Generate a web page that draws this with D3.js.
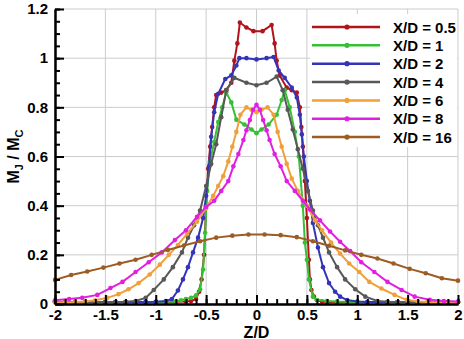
<!DOCTYPE html>
<html>
<head>
<meta charset="utf-8">
<script src="https://cdn.jsdelivr.net/npm/d3@7"></script>
<style>
    body { margin: 0; background: #fff; }
    svg { display: block; }
</style>
</head>
<body>
<div class="chart"></div>
<script>

// ===============================
// Data (Z/D, Mj/Mc) per X/D station
// ===============================

const seriesLabels = ["X/D = 0.5", "X/D = 1", "X/D = 2", "X/D = 4", "X/D = 6", "X/D = 8", "X/D = 16"];

const xTicks = [-2, -1.5, -1, -0.5, 0, 0.5, 1, 1.5, 2];
const yTicks = [0, 0.2, 0.4, 0.6, 0.8, 1, 1.2];

const xd05 = [
    [-2, 0.008], [-1.9, 0.008], [-1.8, 0.008], [-1.7, 0.008], [-1.6, 0.008], [-1.5, 0.008], [-1.4, 0.008],
    [-1.3, 0.008], [-1.2, 0.008], [-1.1, 0.008], [-1, 0.008], [-0.9, 0.008], [-0.8, 0.009], [-0.7, 0.01],
    [-0.65, 0.012], [-0.6, 0.02], [-0.57, 0.05], [-0.545, 0.1], [-0.52, 0.2], [-0.5, 0.4], [-0.48, 0.55],
    [-0.46, 0.64], [-0.44, 0.72], [-0.42, 0.8], [-0.4, 0.85], [-0.35, 0.86], [-0.3, 0.87], [-0.25, 0.9],
    [-0.22, 0.99], [-0.19, 1.06], [-0.165, 1.145], [-0.1, 1.125], [-0.03, 1.11], [0.06, 1.11], [0.15, 1.135],
    [0.18, 1.06], [0.2, 0.99], [0.23, 0.93], [0.3, 0.88], [0.35, 0.87], [0.4, 0.86], [0.43, 0.8],
    [0.445, 0.72], [0.46, 0.64], [0.48, 0.5], [0.5, 0.35], [0.52, 0.18], [0.53, 0.1], [0.545, 0.057],
    [0.57, 0.03], [0.6, 0.015], [0.65, 0.01], [0.7, 0.008], [0.8, 0.008], [0.9, 0.008], [1, 0.008],
    [1.1, 0.008], [1.2, 0.008], [1.3, 0.008], [1.4, 0.008], [1.5, 0.008], [1.6, 0.008], [1.7, 0.008],
    [1.8, 0.008], [1.9, 0.008], [2, 0.008]
];

const xd1 = [
    [-2, 0.008], [-1.9, 0.008], [-1.8, 0.008], [-1.7, 0.008], [-1.6, 0.008], [-1.5, 0.008], [-1.4, 0.008],
    [-1.3, 0.008], [-1.2, 0.008], [-1.1, 0.008], [-1, 0.008], [-0.9, 0.009], [-0.8, 0.01], [-0.75, 0.015],
    [-0.7, 0.02], [-0.65, 0.025], [-0.6, 0.035], [-0.56, 0.06], [-0.53, 0.14], [-0.51, 0.29], [-0.49, 0.46],
    [-0.46, 0.58], [-0.42, 0.66], [-0.38, 0.74], [-0.34, 0.8], [-0.3, 0.86], [-0.25, 0.82], [-0.2, 0.75],
    [-0.12, 0.73], [-0.05, 0.71], [0, 0.695], [0.05, 0.71], [0.12, 0.73], [0.2, 0.77], [0.25, 0.83],
    [0.28, 0.87], [0.33, 0.8], [0.38, 0.7], [0.42, 0.6], [0.46, 0.4], [0.48, 0.25], [0.5, 0.18],
    [0.52, 0.1], [0.56, 0.03], [0.6, 0.016], [0.7, 0.012], [0.8, 0.01], [0.9, 0.009], [1, 0.008],
    [1.1, 0.008], [1.2, 0.008], [1.3, 0.008], [1.4, 0.008], [1.5, 0.008], [1.6, 0.008], [1.7, 0.008],
    [1.8, 0.008], [1.9, 0.008], [2, 0.008]
];

const xd2 = [
    [-2, 0.008], [-1.9, 0.008], [-1.8, 0.008], [-1.7, 0.008], [-1.6, 0.008], [-1.5, 0.008], [-1.4, 0.008],
    [-1.3, 0.008], [-1.2, 0.008], [-1.1, 0.008], [-1, 0.009], [-0.9, 0.012], [-0.84, 0.02], [-0.78, 0.055],
    [-0.73, 0.1], [-0.68, 0.15], [-0.63, 0.21], [-0.58, 0.27], [-0.53, 0.35], [-0.5, 0.44], [-0.47, 0.56],
    [-0.45, 0.68], [-0.42, 0.78], [-0.38, 0.855], [-0.31, 0.915], [-0.25, 0.93], [-0.2, 0.97], [-0.17, 1.0],
    [-0.1, 1.0], [0, 0.995], [0.1, 1.0], [0.17, 1.005], [0.22, 0.95], [0.28, 0.92], [0.35, 0.88],
    [0.4, 0.84], [0.43, 0.77], [0.45, 0.69], [0.47, 0.6], [0.5, 0.5], [0.53, 0.42], [0.56, 0.33],
    [0.61, 0.23], [0.66, 0.15], [0.72, 0.085], [0.78, 0.05], [0.83, 0.03], [0.9, 0.016], [1, 0.01],
    [1.1, 0.008], [1.2, 0.008], [1.3, 0.008], [1.4, 0.008], [1.5, 0.008], [1.6, 0.008], [1.7, 0.008],
    [1.8, 0.008], [1.9, 0.008], [2, 0.008]
];

const xd4 = [
    [-2, 0.008], [-1.9, 0.008], [-1.8, 0.008], [-1.7, 0.008], [-1.6, 0.008], [-1.5, 0.008], [-1.4, 0.008],
    [-1.3, 0.009], [-1.2, 0.012], [-1.1, 0.025], [-1.02, 0.057], [-0.92, 0.1], [-0.83, 0.15], [-0.74, 0.21],
    [-0.68, 0.27], [-0.62, 0.32], [-0.56, 0.38], [-0.5, 0.48], [-0.45, 0.57], [-0.4, 0.65], [-0.35, 0.76],
    [-0.3, 0.87], [-0.22, 0.92], [-0.1, 0.9], [0, 0.89], [0.1, 0.9], [0.2, 0.925], [0.26, 0.87],
    [0.31, 0.79], [0.36, 0.71], [0.41, 0.63], [0.46, 0.55], [0.51, 0.46], [0.56, 0.38], [0.61, 0.32],
    [0.66, 0.27], [0.72, 0.21], [0.8, 0.15], [0.88, 0.1], [0.98, 0.06], [1.08, 0.03], [1.2, 0.012],
    [1.3, 0.009], [1.4, 0.008], [1.5, 0.008], [1.6, 0.008], [1.7, 0.008], [1.8, 0.008], [1.9, 0.008],
    [2, 0.008]
];

const xd6 = [
    [-2, 0.006], [-1.9, 0.007], [-1.8, 0.008], [-1.7, 0.01], [-1.6, 0.015], [-1.48, 0.025], [-1.37, 0.04],
    [-1.27, 0.06], [-1.17, 0.085], [-1.06, 0.12], [-0.96, 0.16], [-0.87, 0.2], [-0.78, 0.24], [-0.69, 0.285],
    [-0.59, 0.335], [-0.5, 0.39], [-0.43, 0.44], [-0.38, 0.48], [-0.33, 0.52], [-0.28, 0.58], [-0.24, 0.64],
    [-0.2, 0.7], [-0.16, 0.77], [-0.1, 0.8], [-0.05, 0.79], [0, 0.78], [0.05, 0.79], [0.11, 0.8],
    [0.17, 0.77], [0.21, 0.7], [0.25, 0.64], [0.3, 0.57], [0.35, 0.51], [0.41, 0.46], [0.5, 0.4],
    [0.58, 0.34], [0.65, 0.3], [0.74, 0.25], [0.83, 0.205], [0.92, 0.165], [1.02, 0.13], [1.12, 0.09],
    [1.24, 0.063], [1.37, 0.037], [1.49, 0.017], [1.6, 0.01], [1.7, 0.008], [1.8, 0.007], [1.9, 0.006],
    [2, 0.006]
];

const xd8 = [
    [-2, 0.015], [-1.86, 0.02], [-1.73, 0.025], [-1.58, 0.037], [-1.45, 0.065], [-1.33, 0.09], [-1.2, 0.13],
    [-1.07, 0.17], [-0.94, 0.21], [-0.81, 0.26], [-0.7, 0.3], [-0.59, 0.355], [-0.5, 0.395], [-0.42, 0.42],
    [-0.35, 0.46], [-0.28, 0.5], [-0.23, 0.56], [-0.18, 0.61], [-0.13, 0.667], [-0.1, 0.707], [-0.066, 0.748],
    [-0.033, 0.79], [0, 0.81], [0.033, 0.79], [0.066, 0.748], [0.1, 0.707], [0.13, 0.667], [0.18, 0.61],
    [0.24, 0.56], [0.3, 0.5], [0.38, 0.46], [0.46, 0.42], [0.53, 0.385], [0.63, 0.34], [0.73, 0.295],
    [0.83, 0.253], [0.93, 0.215], [1.04, 0.17], [1.17, 0.13], [1.3, 0.09], [1.44, 0.057], [1.57, 0.03],
    [1.72, 0.017], [1.86, 0.012], [2, 0.01]
];

const xd16 = [
    [-2, 0.098], [-1.84, 0.118], [-1.68, 0.132], [-1.52, 0.148], [-1.36, 0.165], [-1.2, 0.18], [-1.04, 0.2],
    [-0.88, 0.22], [-0.72, 0.238], [-0.56, 0.255], [-0.4, 0.27], [-0.24, 0.278], [-0.08, 0.283], [0.08, 0.283],
    [0.24, 0.28], [0.4, 0.272], [0.56, 0.255], [0.72, 0.237], [0.88, 0.218], [1.04, 0.2], [1.2, 0.185],
    [1.36, 0.165], [1.52, 0.143], [1.68, 0.125], [1.84, 0.105], [2, 0.095]
];

const seriesData = [xd05, xd1, xd2, xd4, xd6, xd8, xd16];
const seriesColors = ["#b3141c", "#36c036", "#3434b8", "#585858", "#f0a03a", "#e020e0", "#9c5c22"];


// ===============================
// Chart
// ===============================

const width = 464;
const height = 339;
const font = "'Liberation Sans', Arial, sans-serif";

const svg = d3.select(".chart")
    .append("svg")
    .attr("width", width)
    .attr("height", height);

const x = d3.scaleLinear()
    .domain([-2, 2])
    .range([55, 458]);

const y = d3.scaleLinear()
    .domain([0, 1.2])
    .range([304, 9]);

// =========================
// Grid
// =========================

svg.append("g")
    .selectAll("line")
    .data(xTicks)
    .join("line")
    .attr("x1", d => x(d))
    .attr("x2", d => x(d))
    .attr("y1", y(0))
    .attr("y2", y(1.2))
    .attr("stroke", "#cccccc")
    .attr("stroke-width", 1);

svg.append("g")
    .selectAll("line")
    .data(yTicks)
    .join("line")
    .attr("x1", x(-2))
    .attr("x2", x(2))
    .attr("y1", d => y(d))
    .attr("y2", d => y(d))
    .attr("stroke", "#cccccc")
    .attr("stroke-width", 1);

// =========================
// Lines + markers
// =========================

const line = d3.line()
    .x(d => x(d[0]))
    .y(d => y(d[1]));

seriesData.forEach((data, i) => {

    const g = svg.append("g");

    g.append("path")
        .datum(data)
        .attr("d", line)
        .attr("fill", "none")
        .attr("stroke", seriesColors[i])
        .attr("stroke-width", 2);

    g.selectAll("circle")
        .data(data)
        .join("circle")
        .attr("cx", d => x(d[0]))
        .attr("cy", d => y(d[1]))
        .attr("r", 2.3)
        .attr("fill", seriesColors[i]);
});

// =========================
// Legend
// =========================

const legend = svg.append("g");

legend.append("rect")
    .attr("x", 310)
    .attr("y", 14)
    .attr("width", 147)
    .attr("height", 133)
    .attr("fill", "#fff");

const rows = legend.selectAll("g.row")
    .data(seriesLabels)
    .join("g")
    .attr("class", "row")
    .attr("transform", (d, i) => `translate(0,${27 + i * 18.35})`);

rows.append("line")
    .attr("x1", 312)
    .attr("x2", 380)
    .attr("stroke", (d, i) => seriesColors[i])
    .attr("stroke-width", 2.5);

rows.append("circle")
    .attr("cx", 347)
    .attr("r", 2.6)
    .attr("fill", (d, i) => seriesColors[i]);

rows.append("text")
    .attr("x", 393)
    .attr("y", 5.5)
    .style("font-family", font)
    .style("font-size", "15px")
    .style("font-weight", "bold")
    .text(d => d);

// =========================
// Axes
// =========================

const styleAxis = g => {
    g.select(".domain").attr("stroke", "#000").attr("stroke-width", 2);
    g.selectAll(".tick line").attr("stroke", "#000").attr("stroke-width", 2);
    g.selectAll("text")
        .attr("fill", "#000")
        .style("font-family", font)
        .style("font-size", "15px")
        .style("font-weight", "bold");
};

const xMinor = d3.range(-20, 21).map(d => d / 10);
const yMinor = d3.range(0, 25).map(d => d / 20);

svg.append("g")
    .attr("transform", `translate(0,${y(0)})`)
    .call(d3.axisBottom(x).tickValues(xMinor).tickSize(-5).tickSizeOuter(0).tickFormat(""))
    .call(styleAxis);

svg.append("g")
    .attr("transform", `translate(${x(-2)},0)`)
    .call(d3.axisLeft(y).tickValues(yMinor).tickSize(-5).tickSizeOuter(0).tickFormat(""))
    .call(styleAxis);

svg.append("g")
    .attr("transform", `translate(0,${y(0)})`)
    .call(d3.axisBottom(x).tickValues(xTicks).tickSize(-9).tickSizeOuter(0).tickPadding(5).tickFormat(d => String(d)))
    .call(styleAxis);

svg.append("g")
    .attr("transform", `translate(${x(-2)},0)`)
    .call(d3.axisLeft(y).tickValues(yTicks).tickSize(-9).tickSizeOuter(0).tickPadding(7).tickFormat(d => String(d)))
    .call(styleAxis);

// =========================
// Axis titles
// =========================

svg.append("text")
    .attr("x", x(0))
    .attr("y", 337.5)
    .attr("text-anchor", "middle")
    .style("font-family", font)
    .style("font-size", "16px")
    .style("font-weight", "bold")
    .text("Z/D");

const yTitle = svg.append("text")
    .attr("transform", `translate(19,${(y(0) + y(1.2)) / 2}) rotate(-90)`)
    .attr("text-anchor", "middle")
    .style("font-family", font)
    .style("font-size", "16px")
    .style("font-weight", "bold");

yTitle.append("tspan").text("M");
yTitle.append("tspan").attr("dy", 4).style("font-size", "11px").text("J");
yTitle.append("tspan").attr("dy", -4).text(" / M");
yTitle.append("tspan").attr("dy", 4).style("font-size", "11px").text("C");

</script>
</body>
</html>
